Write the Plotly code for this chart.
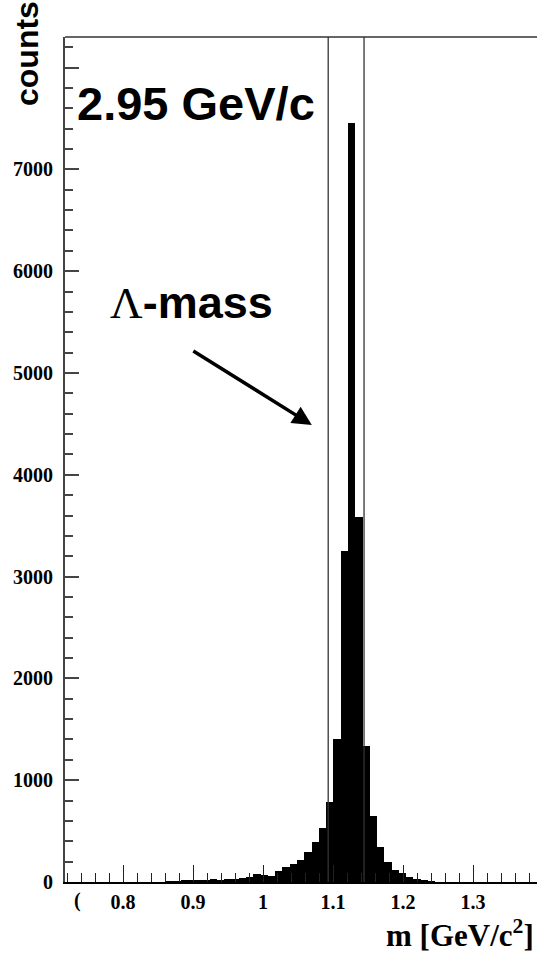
import numpy as np
import plotly.graph_objects as go

# Invariant-mass histogram (p pi- candidates)
bin_width = 0.0104
first_edge = 1.1004 - 23 * bin_width          # left edge of first filled bin
counts = [5, 8, 10, 10, 10, 10, 27, 10, 27, 27, 40, 49, 83, 65, 59,
          108, 150, 174, 216, 292, 390, 527, 783,
          1404, 3253, 7460, 3581, 1333, 648, 347, 193, 118, 85, 46, 26, 12, 4]
bin_centers = first_edge + bin_width * (np.arange(len(counts)) + 0.5)

# Mass window markers
window = [1.093, 1.1442]

# Axis ticks
x_tickvals = [0.8, 0.9, 1.0, 1.1, 1.2, 1.3]
x_ticktext = ["0.8", "0.9", "1", "1.1", "1.2", "1.3"]
y_tickvals = [0, 1000, 2000, 3000, 4000, 5000, 6000, 7000, 8000]
y_ticktext = ["0", "1000", "2000", "3000", "4000", "5000", "6000", "7000", ""]

W, H = 537, 956
L, R, T, B = 65, 0, 37, 74
pw, ph = W - L - R, H - T - B


def px(xp):
    return (xp - L) / pw


def py(yp):
    return (H - B - yp) / ph


serif = "Liberation Serif"
sans = "Liberation Sans"

fig = go.Figure()
fig.add_trace(go.Bar(
    x=bin_centers, y=counts, width=bin_width,
    marker=dict(color="black", line=dict(width=0)),
    showlegend=False,
))

for xv in window:
    fig.add_shape(type="line", x0=xv, x1=xv, xref="x", yref="paper", y0=0, y1=1,
                  line=dict(color="#333333", width=1.3))

# top frame line
fig.add_shape(type="line", xref="paper", yref="paper", x0=0, x1=1, y0=1, y1=1,
              line=dict(color="#333333", width=1.5))

fig.update_layout(
    width=W, height=H,
    margin=dict(l=L, r=R, t=T, b=B, pad=0),
    paper_bgcolor="white", plot_bgcolor="white",
    bargap=0,
    xaxis=dict(
        range=[0.717, 0.717 + pw / 700.0],
        tickvals=x_tickvals, ticktext=x_ticktext,
        ticks="inside", ticklen=17, tickwidth=1.3, tickcolor="#222222",
        minor=dict(ticks="inside", ticklen=9, tickwidth=1.3, tickcolor="#222222",
                   tick0=0.8, dtick=0.02),
        showline=True, linecolor="black", linewidth=2,
        showgrid=False, zeroline=False,
        tickfont=dict(family=serif, size=20, color="black", weight="bold"),
        ticklabelstandoff=1,
    ),
    yaxis=dict(
        range=[0, 845 / 0.1018],
        tickvals=y_tickvals, ticktext=y_ticktext,
        ticks="inside", ticklen=14, tickwidth=1.5, tickcolor="#444444",
        minor=dict(ticks="inside", ticklen=8, tickwidth=1.5, tickcolor="#444444",
                   tick0=0, dtick=200),
        showline=True, linecolor="#444444", linewidth=2,
        showgrid=False, zeroline=False,
        tickfont=dict(family=serif, size=20, color="black", weight="bold"),
        ticklabelstandoff=6,
    ),
)

annotations = [
    dict(text="counts", textangle=-90, x=px(27), y=py(54), font=dict(family=sans, size=32, weight="bold")),
    dict(text="2.95 GeV/c", x=px(75), y=py(103), xanchor="left",
         font=dict(family=sans, size=47, weight="bold")),
    dict(text='<span style="font-family:Liberation Serif;font-weight:normal">Λ</span>-mass',
         x=px(108), y=py(302), xanchor="left",
         font=dict(family=sans, size=45, weight="bold")),
    dict(text="(", x=px(77), y=py(900), font=dict(family=serif, size=20, weight="bold")),
    dict(text="m [GeV/c<sup>2</sup>]", x=px(536), y=py(933), xanchor="right",
         font=dict(family=serif, size=31, weight="bold")),
]
for a in annotations:
    a.setdefault("xanchor", "center")
    a.update(xref="paper", yref="paper", showarrow=False, yanchor="middle")
    a["font"].setdefault("color", "black")
    fig.add_annotation(**a)

# arrow pointing at the mass window
fig.add_annotation(x=1.0696, y=4489, xref="x", yref="y", ax=-120, ay=-75,
                   showarrow=True, arrowhead=2, arrowsize=1.1, arrowwidth=3.5,
                   arrowcolor="black", text="", standoff=0)

fig.write_html("out.html")
